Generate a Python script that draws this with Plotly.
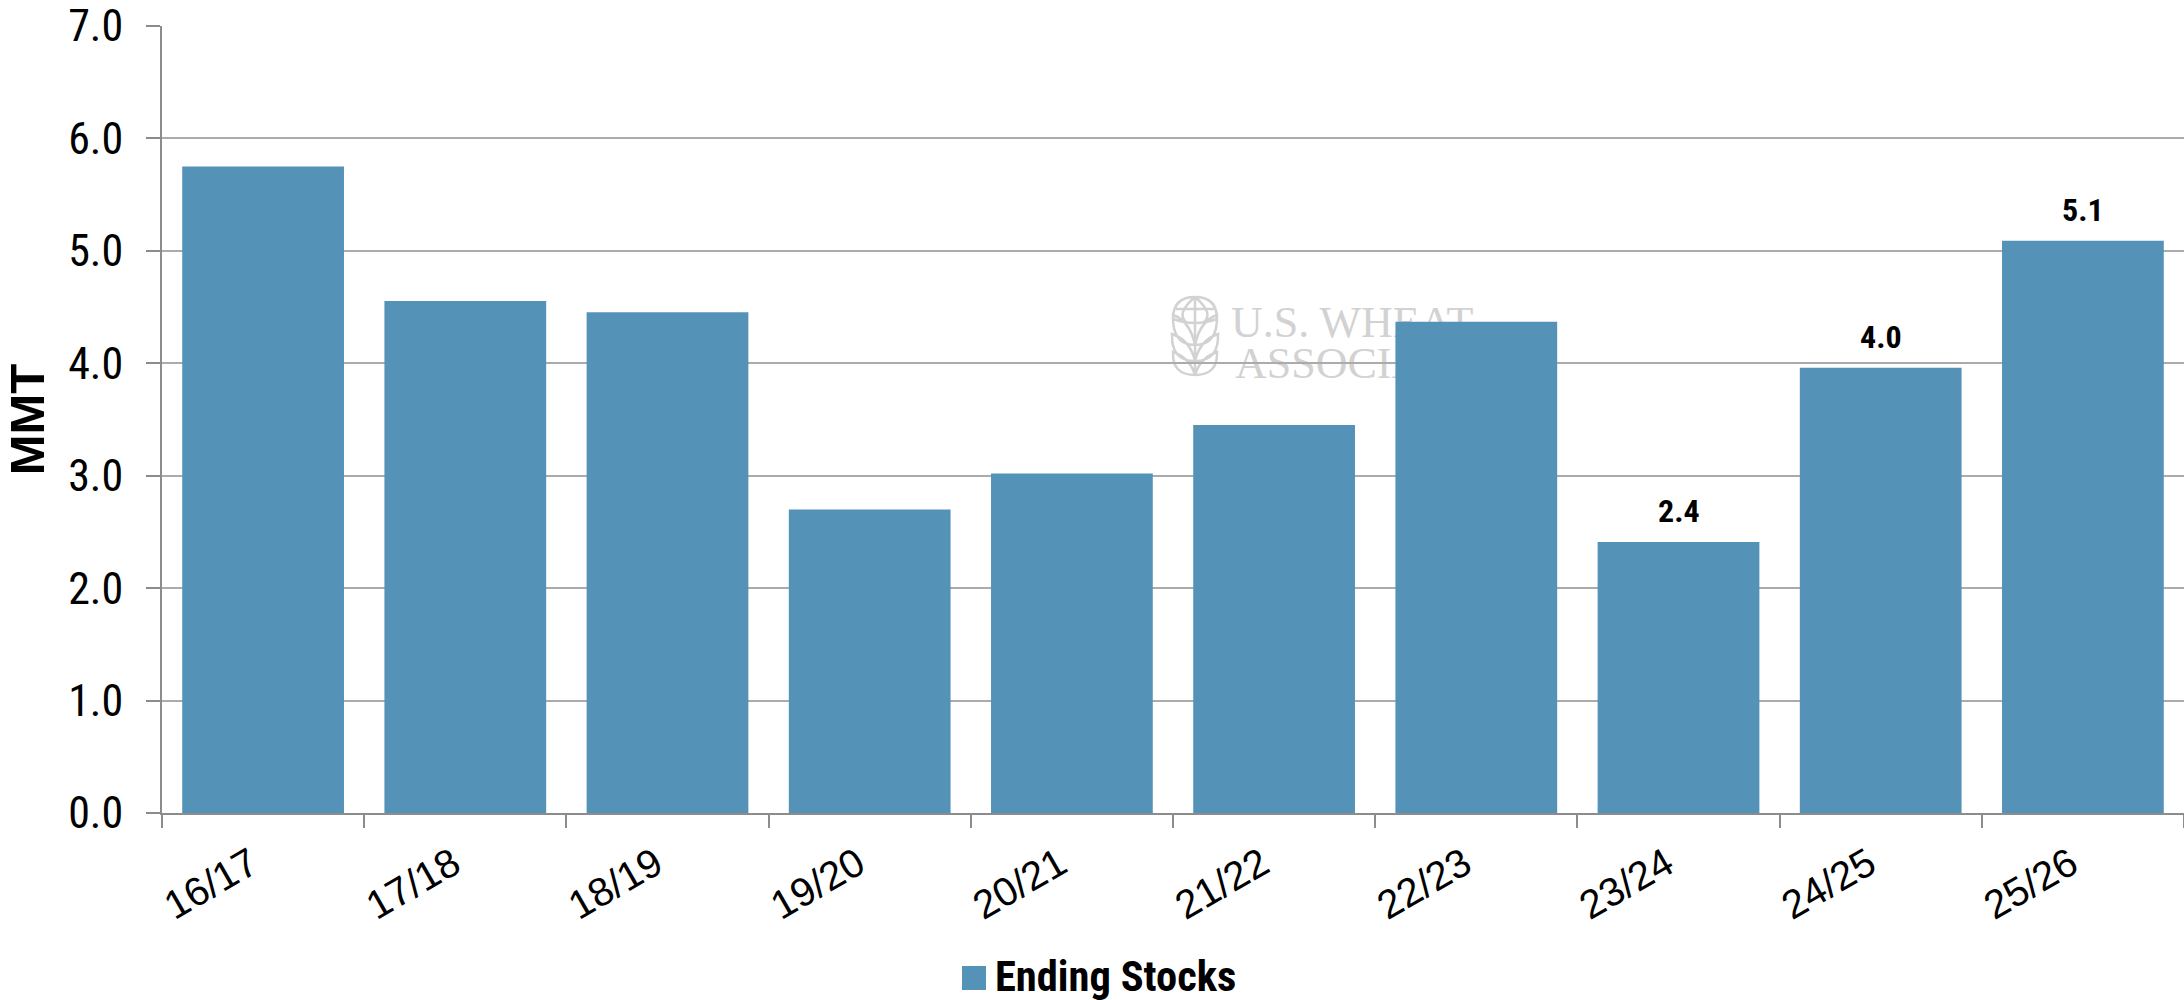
import plotly.graph_objects as go

categories = ["16/17", "17/18", "18/19", "19/20", "20/21", "21/22", "22/23", "23/24", "24/25", "25/26"]
ending_stocks = [5.75, 4.555, 4.455, 2.70, 3.02, 3.45, 4.37, 2.41, 3.96, 5.09]
labelled_seasons = ["23/24", "24/25", "25/26"]
series_name = "Ending Stocks"
y_title = "MMT"

W, H = 2184, 1000
L, R, T, B = 162, 2184, 26, 813
BAR = "#5492B8"
AXIS = "#8C8C8C"
GRID = "#ABABAB"
WM = "#D2D2D2"
NARROW = "'Roboto Condensed', 'Liberation Sans Narrow', Roboto, sans-serif"


def px(x):
    return (x - L) / (R - L)


def py(y):
    return (B - y) / (B - T)


def pt(x, y):
    return f"{px(x):.5f},{py(y):.5f}"


def logo_path():
    cx, cy, r = 1195, 319, 22
    d = []
    # globe outline
    d.append(f"M{pt(cx - r, cy)} Q{pt(cx - r, cy - r)} {pt(cx, cy - r)} Q{pt(cx + r, cy - r)} {pt(cx + r, cy)}")
    # meridians and parallels
    d.append(f"M{pt(cx, cy - r)} L{pt(cx, 375)}")
    d.append(f"M{pt(cx, cy - r)} Q{pt(cx - 20, cy - 5)} {pt(cx - 8, cy + 4)}")
    d.append(f"M{pt(cx, cy - r)} Q{pt(cx + 20, cy - 5)} {pt(cx + 8, cy + 4)}")
    d.append(f"M{pt(cx - 19, cy - 10)} L{pt(cx + 19, cy - 10)}")
    d.append(f"M{pt(cx - r, cy)} Q{pt(cx, cy + 8)} {pt(cx + r, cy)}")
    # leaf pairs
    for top, bottom, half in [(315, 345, 22), (334, 361, 23), (352, 375, 22)]:
        for s in (-1, 1):
            d.append(
                f"M{pt(cx, bottom)} Q{pt(cx + s * (half + 1), bottom)} {pt(cx + s * half, top)} "
                f"Q{pt(cx + s * 5, top + 6)} {pt(cx, bottom)}"
            )
    return " ".join(d)


def wm_text(text, x0, y0, x1, y1):
    return dict(
        type="rect", xref="paper", yref="paper", layer="below",
        x0=px(x0), x1=px(x1), y0=py(y1), y1=py(y0),
        line=dict(width=0), fillcolor="rgba(0,0,0,0)",
        label=dict(text=text, textposition="middle left", padding=0,
                   font=dict(family="'Liberation Serif', serif", size=44, color=WM)),
    )


shapes = [
    dict(type="path", xref="paper", yref="paper", layer="below", path=logo_path(),
         line=dict(color=WM, width=2.5)),
    wm_text("U.S. WHEAT", 1228, 293, 1600, 341),
    wm_text("ASSOCIATES", 1232, 334, 1600, 382),
    # enlarges the legend key to the reference's size
    dict(type="rect", xref="paper", yref="paper", layer="above",
         x0=px(962), x1=px(986), y0=py(990), y1=py(966),
         line=dict(width=0), fillcolor=BAR),
]

annotations = [
    dict(x=c, y=v, xref="x", yref="y", text=f"<b>{v:.1f}</b>", showarrow=False,
         yanchor="bottom", yshift=10,
         font=dict(family=NARROW, size=32, color="#000000"))
    for c, v in zip(categories, ending_stocks) if c in labelled_seasons
]

fig = go.Figure(go.Bar(x=categories, y=ending_stocks, name=series_name,
                       marker=dict(color=BAR, line=dict(width=0)), showlegend=True))

fig.update_layout(
    width=W, height=H,
    margin=dict(l=L, r=W - R, t=T, b=H - B, autoexpand=False),
    paper_bgcolor="#FFFFFF", plot_bgcolor="rgba(0,0,0,0)",
    bargap=0.2,
    shapes=shapes, annotations=annotations,
    showlegend=True,
    legend=dict(x=px(955), y=py(975), xanchor="left", yanchor="middle",
                orientation="h", bgcolor="rgba(0,0,0,0)",
                font=dict(family=NARROW, size=42.5, color="#000000", weight="bold")),
    xaxis=dict(type="category", tickson="boundaries", ticks="outside", ticklen=13, tickwidth=2,
               tickcolor=AXIS, showline=True, linecolor=AXIS, linewidth=2, showgrid=False,
               tickangle=-30, ticklabelstandoff=10, ticklabelshift=-12,
               tickfont=dict(family="'Liberation Sans', Arial, sans-serif", size=40, color="#000000")),
    yaxis=dict(range=[0, 7], dtick=1, tickformat=".1f", ticks="outside", ticklen=14, tickwidth=2,
               tickcolor=AXIS, showline=True, linecolor=AXIS, linewidth=2, automargin=True,
               showgrid=True, gridcolor=GRID, gridwidth=2, zeroline=False,
               ticklabelstandoff=14,
               tickfont=dict(family=NARROW, size=44, color="#000000"),
               title=dict(text=f"<b>{y_title}</b>", standoff=14,
                          font=dict(family="'Liberation Sans', Arial, sans-serif", size=49, color="#000000"))),
)

fig.write_html("out.html", config={"displayModeBar": False},
               post_script="document.body.style.margin='0';")
